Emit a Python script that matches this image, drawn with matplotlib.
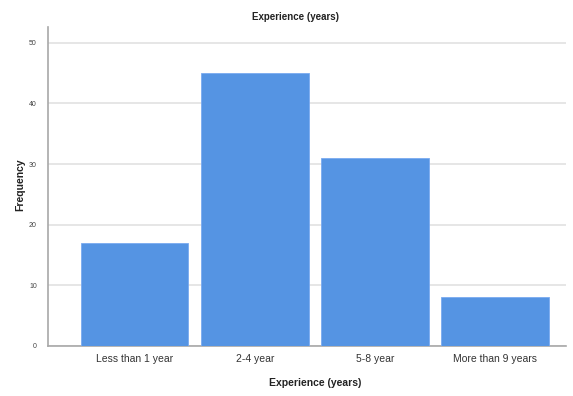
import matplotlib
matplotlib.use("Agg")
import matplotlib.pyplot as plt

categories = ["Less than 1 year", "2-4 year", "5-8 year", "More than 9 years"]
frequency = [17, 45, 31, 8]
y_ticks = [0, 10, 20, 30, 40, 50]

plt.rcParams['font.family'] = ['Liberation Sans', 'DejaVu Sans']

W, H = 573, 396
fig = plt.figure(figsize=(W / 100, H / 100), dpi=100)
ax = fig.add_axes([48 / W, 1 - 346 / H, (566 - 48) / W, (346 - 27) / H])

x = list(range(len(categories)))
ax.bar(x, frequency, width=0.895, color="#5594e3", edgecolor="#7aaaf0", linewidth=0.6, zorder=3)

ax.set_xlim(-0.72, 3.59)
ax.set_ylim(0, 52.6)
ax.set_yticks(y_ticks)
ax.set_yticklabels([str(t) for t in y_ticks], fontsize=5, color="#444444")
ax.set_xticks(x)
ax.set_xticklabels(categories, fontsize=7.5, color="#333333")
ax.tick_params(axis="both", length=0)
ax.tick_params(axis="x", pad=6)
ax.tick_params(axis="y", pad=8)

ax.yaxis.grid(True, color="#e2e2e2", linewidth=1.2, zorder=0)
ax.xaxis.grid(False)
for s in ["top", "right"]:
    ax.spines[s].set_visible(False)
for s in ["left", "bottom"]:
    ax.spines[s].set_color("#a8a8a8")
    ax.spines[s].set_linewidth(1.2)

fig.text(296 / W, 1 - 17 / H, "Experience (years)", ha="center", va="center",
         fontsize=7, fontweight="bold", color="#222222")
fig.text(315 / W, 1 - 383 / H, "Experience (years)", ha="center", va="center",
         fontsize=7.5, fontweight="bold", color="#222222")
fig.text(20 / W, 1 - 185 / H, "Frequency", ha="center", va="center", rotation=90,
         fontsize=7.5, fontweight="bold", color="#222222")

fig.savefig("out.png", dpi=100)
